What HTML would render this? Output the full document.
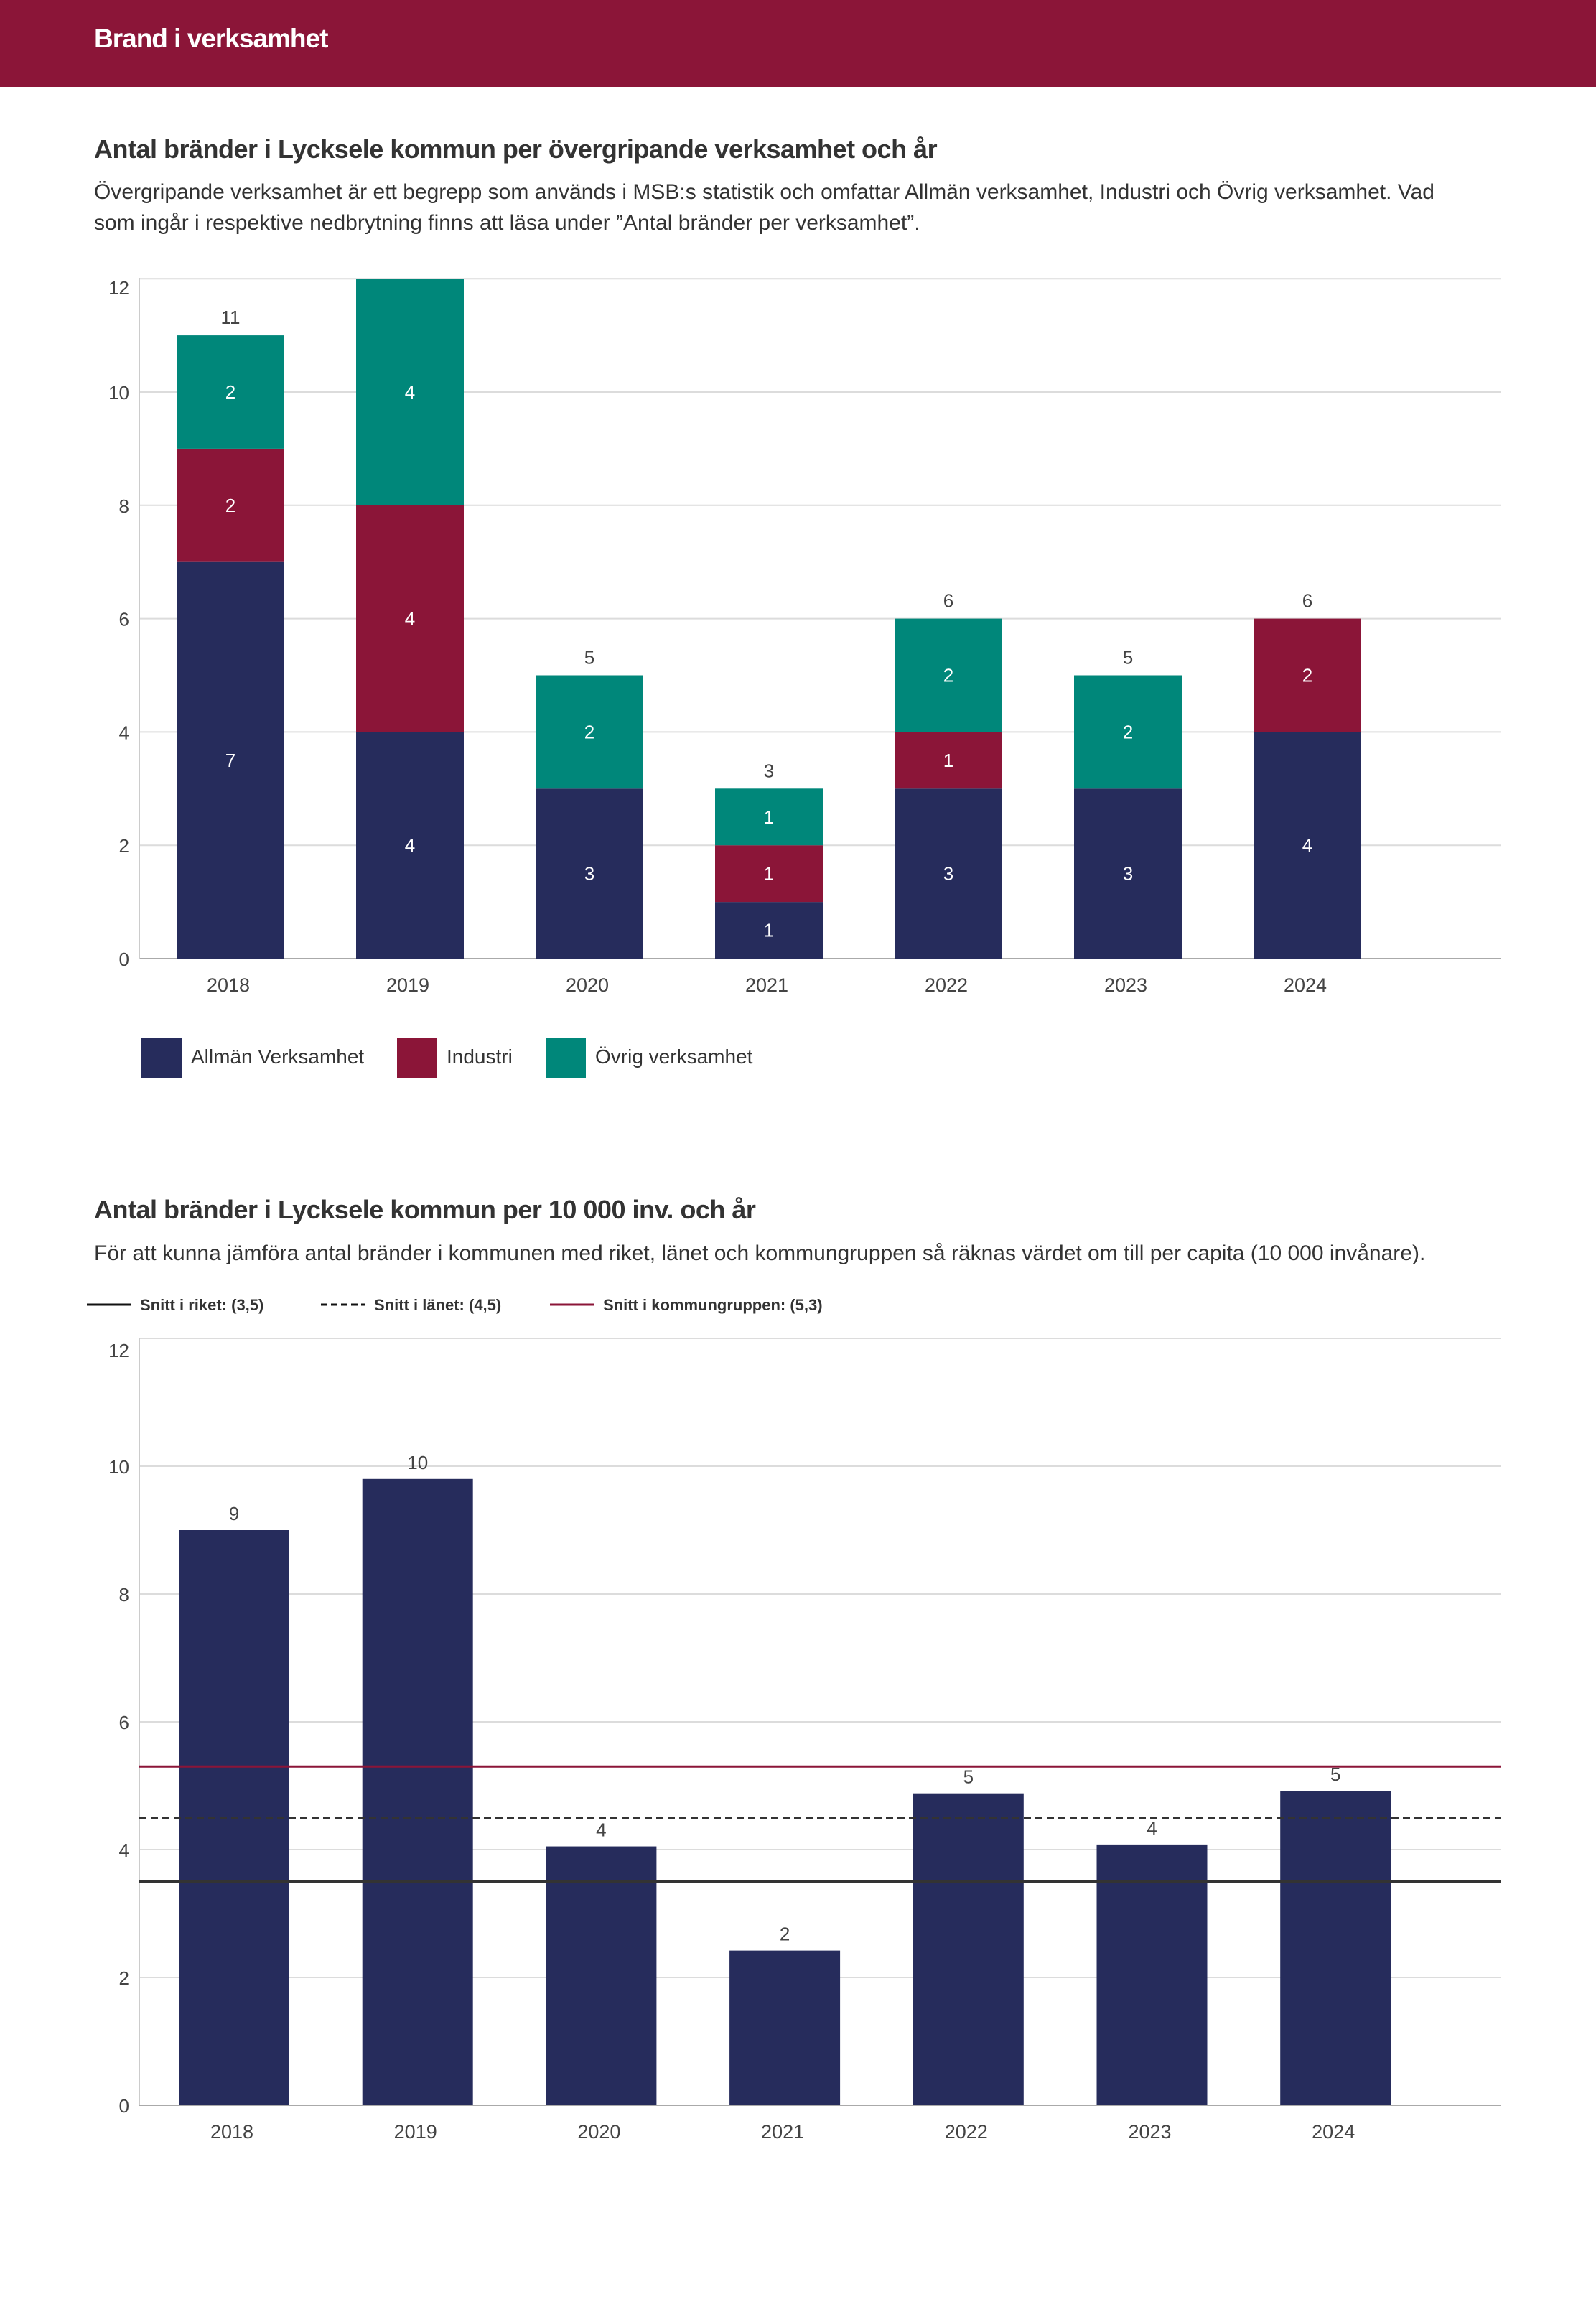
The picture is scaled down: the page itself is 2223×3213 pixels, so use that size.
<!DOCTYPE html>
<html><head><meta charset="utf-8"><style>
body{margin:0;width:2223px;height:3213px;background:#fff;font-family:"Liberation Sans",sans-serif;color:#333;position:relative;overflow:hidden}
.hdr{position:absolute;left:0;top:0;width:2223px;height:121px;background:#8b1538}
.hdr div{position:absolute;left:131px;top:33px;color:#fff;font-weight:bold;font-size:37px;letter-spacing:-1px}
.t{position:absolute;left:131px;font-weight:bold;font-size:36px;color:#333;letter-spacing:-0.5px}
.d{position:absolute;left:131px;font-size:30px;color:#333;line-height:43px;width:1880px}
svg{position:absolute;left:0;top:0}
</style></head><body>
<div class="hdr"><div>Brand i verksamhet</div></div>
<div class="t" style="top:187px">Antal bränder i Lycksele kommun per övergripande verksamhet och år</div>
<div class="d" style="top:246px">Övergripande verksamhet är ett begrepp som används i MSB:s statistik och omfattar Allmän verksamhet, Industri och Övrig verksamhet. Vad som ingår i respektive nedbrytning finns att läsa under ”Antal bränder per verksamhet”.</div>
<div class="t" style="top:1664px">Antal bränder i Lycksele kommun per 10 000 inv. och år</div>
<div class="d" style="top:1724px;width:2050px">För att kunna jämföra antal bränder i kommunen med riket, länet och kommungruppen så räknas värdet om till per capita (10 000 invånare).</div>
<svg id="s" width="2223" height="3213" xmlns="http://www.w3.org/2000/svg" font-family="Liberation Sans, sans-serif"></svg>
<script>
const years=["2018","2019","2020","2021","2022","2023","2024"];
const allman=[7,4,3,1,3,3,4];
const industri=[2,4,0,1,1,0,2];
const ovrig=[2,4,2,1,2,2,0];
const yTicks=[0,2,4,6,8,10,12];
const perCapita=[9.0,9.8,4.05,2.42,4.88,4.08,4.92];
const perCapitaLabels=["9","10","4","2","5","4","5"];
const refRiket=3.5, refLanet=4.5, refGrupp=5.3;
const NS="http://www.w3.org/2000/svg", S=document.getElementById('s');
function el(t,a,txt){const e=document.createElementNS(NS,t);for(const k in a)e.setAttribute(k,a[k]);if(txt!==undefined)e.textContent=txt;S.appendChild(e);return e;}
const C={a:"#262c5c",i:"#8b1538",o:"#00877a"};
// chart 1
const y1=v=>1335-v*78.9, x1=i=>321+i*250;
yTicks.forEach(v=>{
 let g=el('line',{x1:194,x2:2090,y1:y1(v),y2:y1(v),stroke:v?"#dcdcdc":"#aaa","stroke-width":2});
 
 let t=el('text',{x:180,y:y1(v)+(v==12?22:10),"text-anchor":"end","font-size":26,fill:"#444"},v);
 
});
let ax=el('line',{x1:194,x2:194,y1:387,y2:1335,stroke:"#ccc","stroke-width":2});

years.forEach((yr,i)=>{
 let base=0;
 [[allman,C.a,'allman'],[industri,C.i,'industri'],[ovrig,C.o,'ovrig']].forEach(([arr,col,nm])=>{
  const v=arr[i]; if(!v) return;
  let r=el('rect',{x:x1(i)-75,y:y1(base+v),width:150,height:y1(base)-y1(base+v),fill:col});
  
  let t=el('text',{x:x1(i),y:(y1(base)+y1(base+v))/2+9,"text-anchor":"middle","font-size":26,fill:"#fff"},v);
  
  base+=v;
 });
 if(base<12){let t=el('text',{x:x1(i),y:y1(base)-16,"text-anchor":"middle","font-size":26,fill:"#444"},base);
 }
 let xl=el('text',{x:x1(i)-3,y:1381,"text-anchor":"middle","font-size":27,fill:"#444"},yr);
 
});
[[197,C.a,"Allmän Verksamhet"],[553,C.i,"Industri"],[760,C.o,"Övrig verksamhet"]].forEach(([x,c,l])=>{
 let r=el('rect',{x:x,y:1445,width:56,height:56,fill:c});
 
 let t=el('text',{x:x+69,y:1481,"font-size":28,fill:"#333"},l);
 
});
// chart 2
const y2=v=>2932-v*89, x2=i=>326+i*255.7;
yTicks.forEach(v=>{
 let g=el('line',{x1:194,x2:2090,y1:y2(v),y2:y2(v),stroke:v?"#dcdcdc":"#aaa","stroke-width":2});
 
 let t=el('text',{x:180,y:y2(v)+(v==12?26:10),"text-anchor":"end","font-size":26,fill:"#444"},v);
 
});
let ax2=el('line',{x1:194,x2:194,y1:1864,y2:2932,stroke:"#ccc","stroke-width":2});

years.forEach((yr,i)=>{
 const v=perCapita[i];
 let r=el('rect',{x:x2(i)-77,y:y2(v),width:154,height:y2(0)-y2(v),fill:C.a});
 
 let t=el('text',{x:x2(i),y:y2(v)-14,"text-anchor":"middle","font-size":26,fill:"#444"},perCapitaLabels[i]);
 
 let xl=el('text',{x:x2(i)-3,y:2978,"text-anchor":"middle","font-size":27,fill:"#444"},yr);
 
});
let l1=el('line',{x1:194,x2:2090,y1:y2(refRiket),y2:y2(refRiket),stroke:"#333","stroke-width":3});

let l2=el('line',{x1:194,x2:2090,y1:y2(refLanet),y2:y2(refLanet),stroke:"#333","stroke-width":3,"stroke-dasharray":"10,6"});

let l3=el('line',{x1:194,x2:2090,y1:y2(refGrupp),y2:y2(refGrupp),stroke:"#8b1538","stroke-width":3});

[[121,"#111",null,"Snitt i riket: (3,5)"],[447,"#111","9,5","Snitt i länet: (4,5)"],[766,"#8b1538",null,"Snitt i kommungruppen: (5,3)"]].forEach(([x,c,d,l])=>{
 const a={x1:x,x2:x+61,y1:1817,y2:1817,stroke:c,"stroke-width":3};if(d)a["stroke-dasharray"]=d;
 let ln=el('line',a);
 let t=el('text',{x:x+74,y:1825,"font-size":22,"font-weight":"bold",fill:"#333"},l);
 
});
</script>
</body></html>
